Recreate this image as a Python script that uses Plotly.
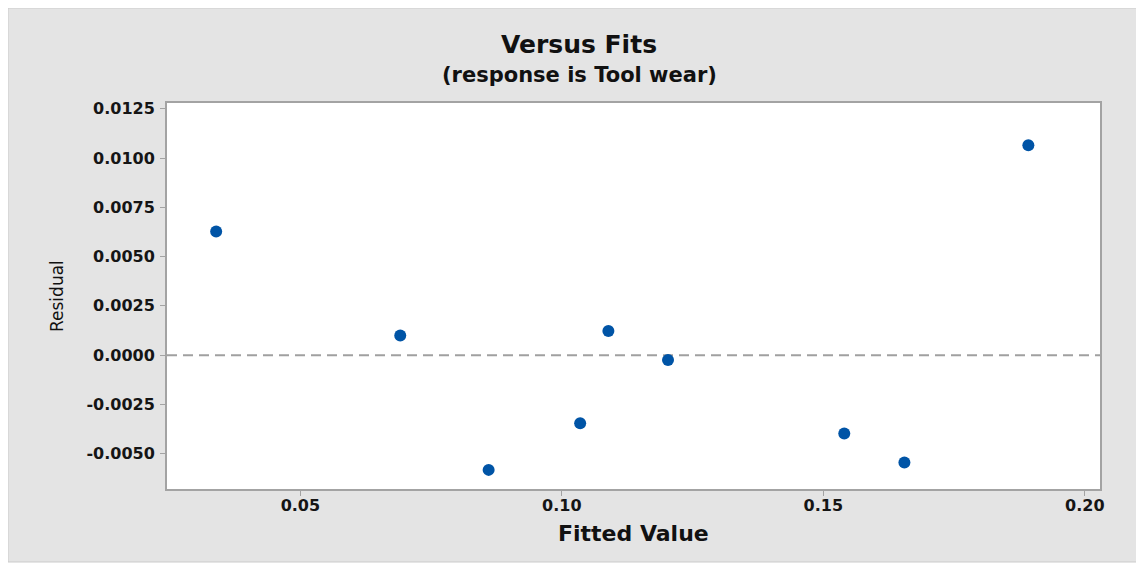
import plotly.graph_objects as go

# Data
fitted_values = [0.0339, 0.0691, 0.0860, 0.1035, 0.1089, 0.1203, 0.1540, 0.1655, 0.1892]
residuals = [0.00627, 0.00100, -0.00582, -0.00345, 0.00123, -0.00025, -0.00397, -0.00544, 0.01065]

x_tick_vals = [0.05, 0.10, 0.15, 0.20]
x_tick_text = ["0.05", "0.10", "0.15", "0.20"]
y_tick_vals = [-0.0050, -0.0025, 0.0, 0.0025, 0.0050, 0.0075, 0.0100, 0.0125]
y_tick_text = ["-0.0050", "-0.0025", "0.0000", "0.0025", "0.0050", "0.0075", "0.0100", "0.0125"]

# page offset from default body margin
OFF = 8
PAGE_W, PAGE_H = 1144, 565
W, H = PAGE_W - OFF, PAGE_H - OFF
# plot area in page pixel coordinates
PL, PR, PT, PB = 167, 1100, 103, 489
L, T = PL - OFF, PT - OFF
R, B = W - (PR - OFF), H - (PB - OFF)
pw, ph = PR - PL, PB - PT


def px_x(p):
    return (p - PL) / pw


def px_y(p):
    return (PB - p) / ph


FONT = "DejaVu Sans"
GRID = "#a3a3a3"

fig = go.Figure()
fig.add_trace(go.Scatter(
    x=fitted_values, y=residuals, mode="markers",
    marker=dict(color="#0054A6", size=12, line=dict(width=0)),
    showlegend=False, hoverinfo="x+y",
))

axis_common = dict(
    showgrid=False, zeroline=False, showline=True, mirror=True,
    linecolor=GRID, linewidth=2, ticks="outside", ticklen=5, tickwidth=1,
    tickcolor=GRID, tickfont=dict(family=FONT, size=16, color="#151515", weight="bold"),
)

fig.update_layout(
    width=W, height=H,
    margin=dict(l=L, r=R, t=T, b=B),
    paper_bgcolor="white",
    plot_bgcolor="white",
    xaxis=dict(range=[0.0245, 0.2029], tickvals=x_tick_vals, ticktext=x_tick_text,
               ticklabelstandoff=-4, **axis_common),
    yaxis=dict(range=[-0.00679, 0.01279], tickvals=y_tick_vals, ticktext=y_tick_text,
               ticklabelstandoff=2, **axis_common),
    shapes=[
        dict(type="rect", xref="paper", yref="paper", layer="below",
             x0=px_x(OFF), x1=px_x(1141), y0=px_y(562), y1=px_y(OFF),
             fillcolor="#e4e4e4", line=dict(color="#cbcbcb", width=1)),
        dict(type="rect", xref="paper", yref="paper", layer="below",
             x0=0, x1=1, y0=0, y1=1, fillcolor="white", line=dict(width=0)),
        dict(type="line", xref="paper", yref="y", layer="below",
             x0=0, x1=1, y0=0, y1=0,
             line=dict(color="#a0a0a0", width=2, dash="10px,6px")),
    ],
    annotations=[
        dict(text="Versus Fits", xref="paper", yref="paper", x=px_x(579), y=px_y(45),
             xanchor="center", yanchor="middle", showarrow=False,
             font=dict(family=FONT, size=25, color="#111111", weight="bold")),
        dict(text="(response is Tool wear)", xref="paper", yref="paper", x=px_x(579), y=px_y(75),
             xanchor="center", yanchor="middle", showarrow=False,
             font=dict(family=FONT, size=21, color="#111111", weight="bold")),
        dict(text="Fitted Value", xref="paper", yref="paper", x=0.5, y=px_y(533),
             xanchor="center", yanchor="middle", showarrow=False,
             font=dict(family=FONT, size=22, color="#111111", weight="bold")),
        dict(text="Residual", xref="paper", yref="paper", x=px_x(57), y=0.5,
             xanchor="center", yanchor="middle", showarrow=False, textangle=-90,
             font=dict(family=FONT, size=17, color="#111111")),
    ],
)

fig.write_html("out.html")
